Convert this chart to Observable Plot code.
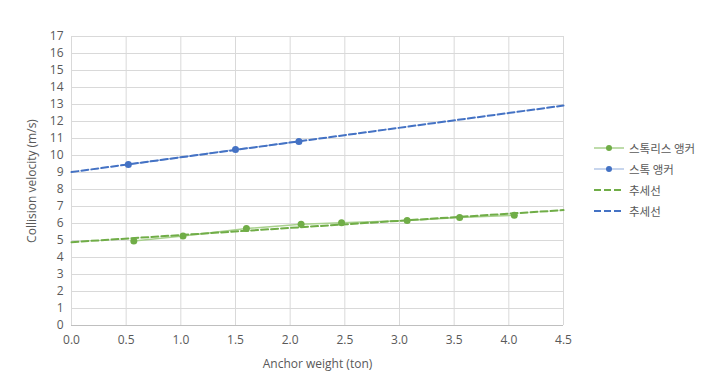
<!DOCTYPE html>
<html><head><meta charset="utf-8">
<script src="https://cdn.jsdelivr.net/npm/d3@7"></script>
<script src="https://cdn.jsdelivr.net/npm/@observablehq/plot@0.6"></script>
<style>
body{margin:0;background:#fff;font-family:"Open Sans","Noto Sans CJK KR",sans-serif;}
#wrap{position:relative;width:714px;height:385px;}
#legend{position:absolute;left:594px;top:137px;font-family:"Noto Sans CJK KR","Noto Sans",sans-serif;font-size:11.5px;color:#595959;}
#legend .it{display:flex;align-items:center;height:21px;}
#legend svg{margin-right:5px;}
.chart-lab text{font-size:12px;}
</style></head>
<body><div id="wrap"><div id="chart"></div><div id="legend"></div></div>
<script>
const stocklessX = [0.57, 1.02, 1.60, 2.10, 2.47, 3.07, 3.55, 4.05];
const stocklessY = [4.97, 5.27, 5.70, 5.95, 6.05, 6.17, 6.35, 6.48];
const stockX = [0.52, 1.50, 2.08];
const stockY = [9.47, 10.35, 10.82];
const seriesNames = ["스톡리스 앵커", "스톡 앵커", "추세선", "추세선"];
const xTicks = [0, 0.5, 1, 1.5, 2, 2.5, 3, 3.5, 4, 4.5];
const yTicks = d3.range(0, 18);

const green = "#70ad47", greenLight = "#a9d18e", blue = "#4472c4", blueLight = "#b4c7e7";

function fit(xs, ys) {
  const mx = d3.mean(xs), my = d3.mean(ys);
  const sxy = d3.sum(xs, (x, i) => (x - mx) * (ys[i] - my));
  const sxx = d3.sum(xs, x => (x - mx) ** 2);
  const b = sxy / sxx, a = my - b * mx;
  return [0, 4.5].map(x => ({x, y: a + b * x}));
}
const sless = stocklessX.map((x, i) => ({x, y: stocklessY[i]}));
const stk = stockX.map((x, i) => ({x, y: stockY[i]}));
const trendG = fit(stocklessX, stocklessY);
const trendB = fit(stockX, stockY);

const chart = Plot.plot({
  width: 714, height: 385,
  marginLeft: 71, marginRight: 151, marginTop: 36, marginBottom: 60,
  style: {fontFamily: "Open Sans, sans-serif", fontSize: "11px", color: "#595959", background: "#fff"},
  x: {domain: [0, 4.5], ticks: xTicks, tickFormat: d3.format(".1f"), tickSize: 0, tickPadding: 10,
      label: null},
  y: {domain: [0, 17], ticks: yTicks, tickSize: 0, tickPadding: 8, label: null},
  marks: [
    Plot.gridX(xTicks, {stroke: "#d9d9d9", strokeOpacity: 1}),
    Plot.gridY(yTicks, {stroke: "#d9d9d9", strokeOpacity: 1}),
    Plot.ruleY([0], {stroke: "#bfbfbf"}),
    Plot.axisX({ticks: xTicks, tickFormat: d3.format(".1f"), tickSize: 0, tickPadding: 10,
      label: "Anchor weight (ton)", labelAnchor: "center", labelArrow: "none", labelOffset: 42, className: "chart-lab"}),
    Plot.axisY({ticks: yTicks, tickSize: 0, tickPadding: 8,
      label: "Collision velocity (m/s)", labelAnchor: "center", labelArrow: "none", labelOffset: 44, className: "chart-lab2"}),
    Plot.line(sless, {x: "x", y: "y", stroke: greenLight, strokeWidth: 1.5}),
    Plot.line(stk, {x: "x", y: "y", stroke: blueLight, strokeWidth: 1.5}),
    Plot.line(trendG, {x: "x", y: "y", stroke: green, strokeWidth: 2, strokeDasharray: "7,3"}),
    Plot.line(trendB, {x: "x", y: "y", stroke: blue, strokeWidth: 2, strokeDasharray: "7,3"}),
    Plot.dot(sless, {x: "x", y: "y", fill: green, r: 3.5}),
    Plot.dot(stk, {x: "x", y: "y", fill: blue, r: 3.5})
  ]
});
document.getElementById("chart").appendChild(chart);
// enlarge axis title text only
d3.select(chart).selectAll("[aria-label='x-axis label'] text, [aria-label='y-axis label'] text, g[aria-label$='label'] text")
  .style("font-size", "12px");

const leg = d3.select("#legend");
const items = [
  {name: seriesNames[0], line: greenLight, dot: green, dash: null},
  {name: seriesNames[1], line: blueLight, dot: blue, dash: null},
  {name: seriesNames[2], line: green, dot: null, dash: "7,3"},
  {name: seriesNames[3], line: blue, dot: null, dash: "7,3"}
];
items.forEach(it => {
  const d = leg.append("div").attr("class", "it");
  const s = d.append("svg").attr("width", 30).attr("height", 10);
  s.append("line").attr("x1", 0).attr("x2", 30).attr("y1", 5).attr("y2", 5)
    .attr("stroke", it.line).attr("stroke-width", it.dash ? 2 : 1.5)
    .attr("stroke-dasharray", it.dash);
  if (it.dot) s.append("circle").attr("cx", 15).attr("cy", 5).attr("r", 3).attr("fill", it.dot);
  d.append("span").text(it.name);
});
</script></body></html>
